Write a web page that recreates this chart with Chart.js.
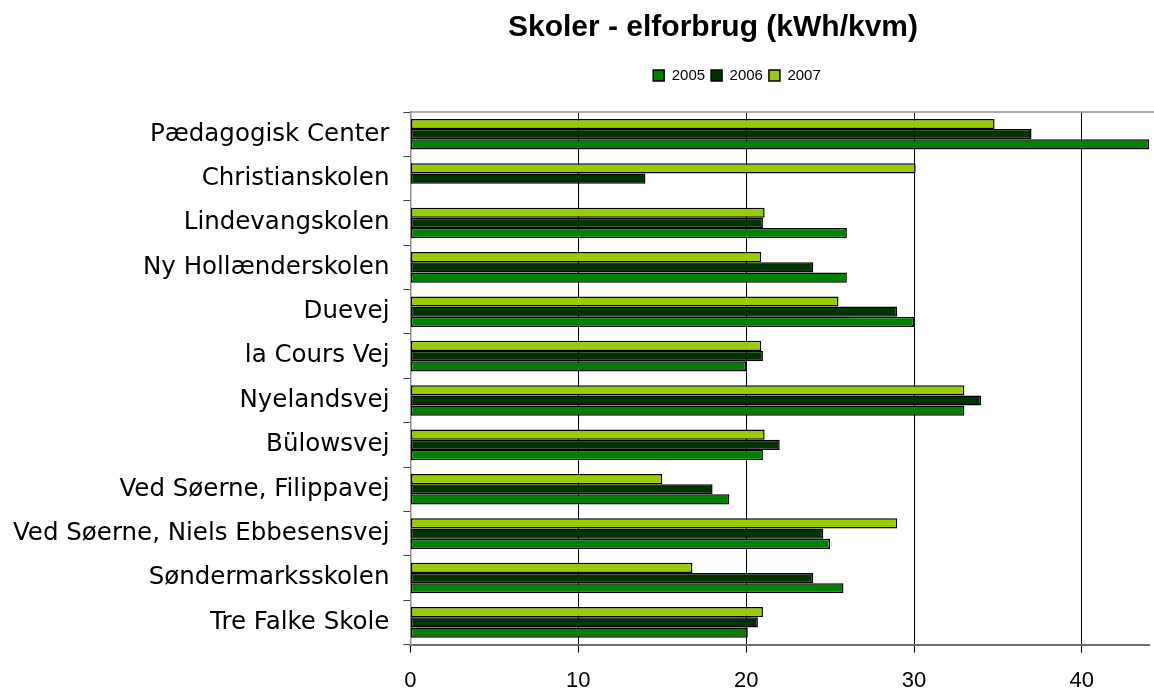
<!DOCTYPE html>
<html>
<head>
<meta charset="utf-8">
<script src="https://cdn.jsdelivr.net/npm/chart.js@4/dist/chart.umd.min.js"></script>
<style>
  html, body { margin: 0; padding: 0; background: #fff; }
  #wrap { width: 1154px; height: 690px; }
</style>
</head>
<body>
<div id="wrap"><canvas id="plot-area"></canvas></div>
<script>
const schools = [
  "Pædagogisk Center", "Christianskolen", "Lindevangskolen", "Ny Hollænderskolen",
  "Duevej", "la Cours Vej", "Nyelandsvej", "Bülowsvej",
  "Ved Søerne, Filippavej", "Ved Søerne, Niels Ebbesensvej", "Søndermarksskolen", "Tre Falke Skole"
];
const y2005 = [44.0, null, 26.0, 26.0, 30.0, 20.0, 33.0, 21.0, 19.0, 25.0, 25.8, 20.1];
const y2006 = [37.0, 14.0, 21.0, 24.0, 29.0, 21.0, 34.0, 22.0, 18.0, 24.6, 24.0, 20.7];
const y2007 = [34.8, 30.1, 21.1, 20.9, 25.5, 20.9, 33.0, 21.1, 15.0, 29.0, 16.8, 21.0];

// move title + legend to where the original had them, and draw the grey top border
const headerShift = {
  id: "headerShift",
  afterLayout(chart) {
    const t = chart.titleBlock, l = chart.legend;
    if (t) { t.left = 272; t.right = 1154; }
    if (l) { l.left = 320; l.right = 1154; l.top -= 19; l.bottom -= 19; }
  },
  afterDraw(chart) {
    const a = chart.chartArea, ctx = chart.ctx;
    ctx.save();
    ctx.strokeStyle = "#909090";
    ctx.lineWidth = 1.5;
    ctx.beginPath();
    ctx.moveTo(a.left, a.top);
    ctx.lineTo(chart.width, a.top);
    ctx.stroke();
    ctx.restore();
  }
};

function mkSet(label, data, color) {
  return {
    label: label,
    data: data,
    backgroundColor: color,
    borderColor: "#000000",
    borderWidth: 1.5,
    borderSkipped: false,
    categoryPercentage: 0.69,
    barPercentage: 1.0
  };
}

const config = {
  type: "bar",
  data: {
    labels: schools,
    datasets: [
      mkSet("2007", y2007, "#99CC00"),
      mkSet("2006", y2006, "#003300"),
      mkSet("2005", y2005, "#008000")
    ]
  },
  plugins: [headerShift],
  options: {
    indexAxis: "y",
    responsive: true,
    maintainAspectRatio: false,
    animation: false,
    layout: { padding: { left: -1, right: 5, top: 0, bottom: -19 } },
    scales: {
      x: {
        min: 0,
        max: 44,
        afterBuildTicks: function (axis) {
          axis.ticks = axis.ticks.filter(function (t) { return t.value % 10 === 0; });
        },
        ticks: {
          stepSize: 10,
          color: "#000",
          padding: 15,
          font: { family: "Liberation Sans", size: 22 }
        },
        grid: { color: "#000", lineWidth: 1, tickLength: 8, drawTicks: true },
        border: { color: "#707070", width: 2 }
      },
      y: {
        ticks: {
          color: "#000",
          padding: 14,
          font: { family: "DejaVu Sans", size: 24.5 }
        },
        grid: { offset: true, drawOnChartArea: false, tickLength: 7, color: "#404040" },
        border: { color: "#909090", width: 1.5 }
      }
    },
    plugins: {
      title: {
        display: true,
        text: "Skoler - elforbrug (kWh/kvm)",
        color: "#000",
        font: { family: "Liberation Sans", size: 30, weight: "bold" },
        padding: { top: 10, bottom: 35 }
      },
      legend: {
        position: "top",
        reverse: true,
        labels: {
          color: "#000",
          boxWidth: 11,
          boxHeight: 11,
          padding: 6,
          font: { family: "Liberation Sans", size: 15 }
        }
      },
      tooltip: { enabled: false }
    }
  }
};

new Chart(document.getElementById("plot-area").getContext("2d"), config);
</script>
</body>
</html>
